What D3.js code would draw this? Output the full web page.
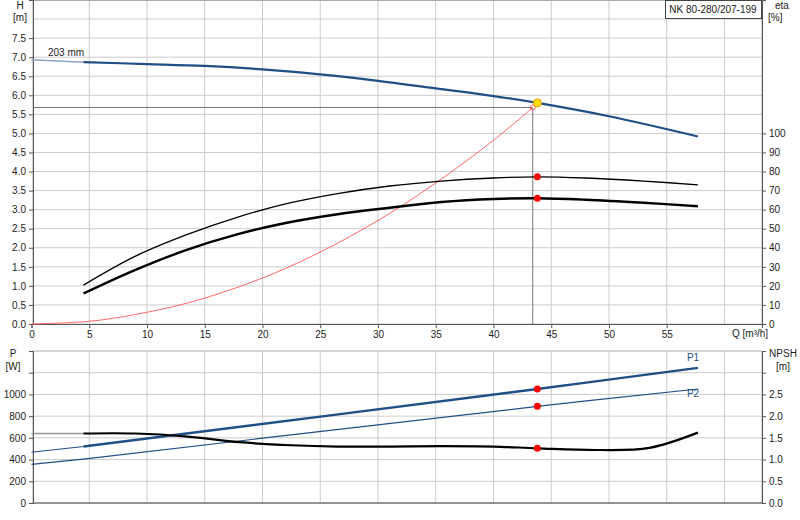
<!DOCTYPE html>
<html><head><meta charset="utf-8">
<script src="https://cdn.jsdelivr.net/npm/d3@7"></script>
<style>body{margin:0;background:#fff}text{font-family:"Liberation Sans",Arial,sans-serif;font-size:10px;fill:#222}</style>
</head><body><svg id="c" width="800" height="520"></svg>
<script>
// pump curve data
var qH = [0, 4.5, 10, 15, 20, 25, 30, 35, 40, 43.8, 50, 57.7];
var hVals = [6.93, 6.87, 6.82, 6.77, 6.68, 6.55, 6.38, 6.18, 5.98, 5.8, 5.45, 4.92];
var qEta = [4.5, 9, 13.5, 17.8, 22, 26.5, 31, 35.5, 40, 43.8, 48, 53, 57.7];
var eta1 = [20.4, 35.6, 47, 56, 63, 68.4, 72.4, 75, 76.6, 77.2, 76.6, 75, 73];
var eta2 = [16, 28.4, 39, 47, 53, 57.6, 61, 64, 65.6, 66, 65.2, 63.6, 61.8];
var qSys = [0, 5, 9, 13.5, 18, 22, 26.5, 31, 35, 40, 43.4];
var hSys = [0, 0.07, 0.25, 0.55, 0.98, 1.46, 2.12, 2.9, 3.7, 4.82, 5.68];
var qP = [0, 4.5, 43.8, 57.7];
var p1 = [468, 520, 1050, 1245];
var p2 = [355, 405, 890, 1050];
var qNpsh = [0, 4.5, 9, 13.5, 18, 22.5, 26.5, 31, 35.5, 40, 43.8, 49, 53.5, 57.7];
var npsh = [1.6, 1.6, 1.6, 1.53, 1.4, 1.33, 1.3, 1.3, 1.31, 1.3, 1.26, 1.22, 1.27, 1.62];
var duty = {q: 43.4, h: 5.68};
var qOp = 43.8;
var hTicks = d3.range(0, 7.51, 0.5);
var etaTicks = d3.range(0, 101, 10);
var qTicks = d3.range(0, 56, 5);
var pTicks = [0, 200, 400, 600, 800, 1000];
var npshTicks = d3.range(0, 2.51, 0.5);

var svg = d3.select('#c');
var x = d3.scaleLinear().domain([0, 63.25]).range([31.5, 762]);
var y = d3.scaleLinear().domain([0, 8.5]).range([324, 0]);
var yEta = d3.scaleLinear().domain([0, 170]).range([324, 0]);
var yP = d3.scaleLinear().domain([0, 1400]).range([503, 351]);
var yN = d3.scaleLinear().domain([0, 3.5]).range([503, 351]);

function grid(g, yTop, yBot, ticks, sc) {
    x.ticks(13).forEach(function (t) {
        if (t > 0) g.append('line').attr('x1', x(t)).attr('x2', x(t)).attr('y1', yTop).attr('y2', yBot).attr('stroke', '#ccc');
    });
    ticks.forEach(function (t) {
        g.append('line').attr('x1', 33).attr('x2', 762).attr('y1', sc(t)).attr('y2', sc(t)).attr('stroke', '#ccc');
    });
}
var g = svg.append('g');
grid(g, 0, 324, d3.range(0, 8.51, 0.5), y);
grid(g, 351, 503, [200, 400, 600, 800, 1000, 1200], yP);
g.append('rect').attr('x', 33).attr('y', 0.5).attr('width', 729).attr('height', 324).attr('fill', 'none').attr('stroke', '#aaa');
g.append('rect').attr('x', 33).attr('y', 351).attr('width', 729).attr('height', 152).attr('fill', 'none').attr('stroke', '#aaa');

// axes
svg.append('g').attr('transform', 'translate(33,0)').call(d3.axisLeft(y).tickValues(hTicks).tickFormat(d3.format('.1f')).tickSize(4));
svg.append('g').attr('transform', 'translate(762,0)').call(d3.axisRight(yEta).tickValues(etaTicks).tickSize(4));
svg.append('g').attr('transform', 'translate(0,324)').call(d3.axisBottom(x).tickValues(qTicks).tickSize(4));
svg.append('g').attr('transform', 'translate(33,0)').call(d3.axisLeft(yP).tickValues(pTicks.concat([1200])).tickFormat(function (d) { return d == 1200 ? '' : d; }).tickSize(4));
svg.append('g').attr('transform', 'translate(762,0)').call(d3.axisRight(yN).tickValues(npshTicks.concat([3])).tickFormat(function (d) { return d == 3 ? '' : d3.format('.1f')(d); }).tickSize(4));
svg.append('line').attr('x1', 33).attr('x2', 762).attr('y1', 503).attr('y2', 503).attr('stroke', '#555');
svg.selectAll('.domain').attr('stroke', '#555');
svg.selectAll('.tick line').attr('stroke', '#555');
svg.selectAll('.tick text').style('font-size', '10px').attr('fill', '#222');

function line(xs, ys, sx, sy) {
    return d3.line().curve(d3.curveCatmullRom).x(function (d, i) { return sx(xs[i]); }).y(function (d) { return sy(d); })(ys);
}
function path(d, c, w) { svg.append('path').attr('d', d).attr('fill', 'none').attr('stroke', c).attr('stroke-width', w); }

// duty lines
path(d3.line()([[33, y(duty.h)], [x(duty.q), y(duty.h)], [x(duty.q), 324]]), '#777', 1);
path(line(qSys, hSys, x, y), '#f66', 1);
path(line(qH.slice(0, 2), hVals.slice(0, 2), x, y), '#8aa6c4', 1.5);
path(line(qH.slice(1), hVals.slice(1), x, y), '#1f4f85', 2.2);
path(line(qEta, eta1, x, yEta), '#000', 1.3);
path(line(qEta, eta2, x, yEta), '#000', 2.4);
path(line(qP.slice(0, 2), p1.slice(0, 2), x, yP), '#1f4f85', 1);
path(line(qP.slice(1), p1.slice(1), x, yP), '#1f4f85', 2.4);
path(line(qP, p2, x, yP), '#1f4f85', 1.2);
path(line(qNpsh.slice(0, 2), npsh.slice(0, 2), x, yN), '#999', 1.5);
path(line(qNpsh.slice(1), npsh.slice(1), x, yN), '#000', 2.2);

// markers
function dot(cx, cy, r, f, s) { svg.append('circle').attr('cx', cx).attr('cy', cy).attr('r', r).attr('fill', f).attr('stroke', s || 'none'); }
var iOp = qEta.indexOf(qOp);
dot(x(qOp), yEta(eta1[iOp]), 3.5, '#f00');
dot(x(qOp), yEta(eta2[iOp]), 3.5, '#f00');
dot(x(qOp), yP(p1[2]), 3.5, '#f00');
dot(x(qOp), yP(p2[2]), 3.5, '#f00');
dot(x(qOp), yN(npsh[qNpsh.indexOf(qOp)]), 3.5, '#f00');
dot(x(duty.q), y(duty.h), 2.5, 'none', '#f66');
dot(x(qOp), y(hVals[qH.indexOf(qOp)]), 4, '#ffe000', '#f0a000');

// labels
function txt(tx, ty, s, a, c) { svg.append('text').attr('x', tx).attr('y', ty).attr('text-anchor', a || 'start').style('fill', c || '#222').text(s); }
txt(20, 9, 'H', 'middle'); txt(20, 21, '[m]', 'middle');
txt(775, 9, 'eta'); txt(768, 21, '[%]');
txt(732, 337, 'Q [m³/h]');
txt(13, 357, 'P', 'middle'); txt(13, 370, '[W]', 'middle');
txt(783, 357, 'NPSH', 'middle'); txt(783, 370, '[m]', 'middle');
txt(48, 56, '203 mm');
txt(693, 361, 'P1', 'middle', '#1f4f85');
txt(693, 397, 'P2', 'middle', '#1f4f85');
svg.append('rect').attr('x', 665.5).attr('y', 0.5).attr('width', 96).attr('height', 18).attr('fill', '#fff').attr('stroke', '#444');
txt(713, 13, 'NK 80-280/207-199', 'middle');
</script></body></html>
